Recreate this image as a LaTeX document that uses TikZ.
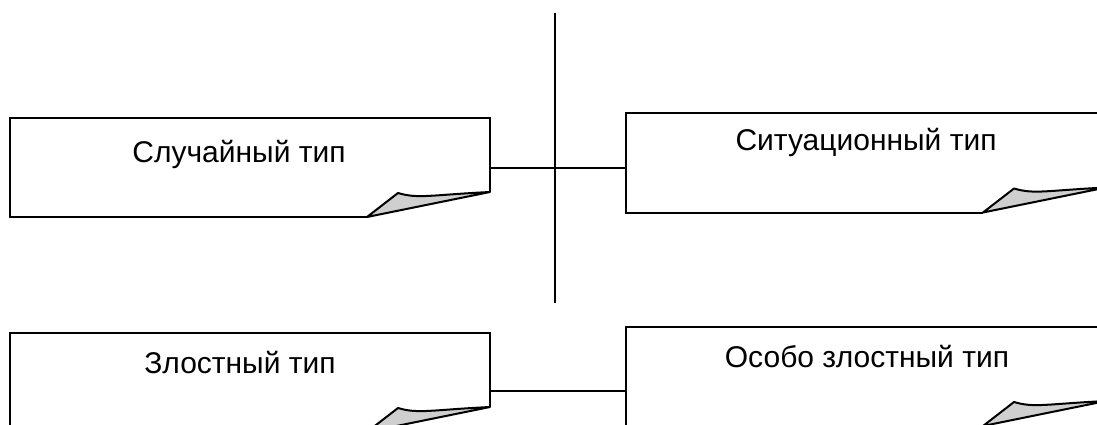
\documentclass[tikz,border=0pt]{standalone}
\usepackage{fontspec}
\setmainfont{Liberation Sans}
\usetikzlibrary{calc}
\tikzset{
  boxnode/.style={rectangle, minimum width=480pt, minimum height=99pt, inner sep=0pt, outer sep=0pt},
  boxline/.style={line width=2pt, line join=miter},
  curl/.style={line width=2pt, fill=black!19, line join=round},
  conn/.style={line width=2pt},
  lbl/.style={font=\fontsize{30}{35}\selectfont, inner sep=0pt}
}
\newcommand\myfoldbox[1]{%
  \draw[boxline] ($(#1.south west)+(357,0)$) -- (#1.south west) -- (#1.north west) -- (#1.north east) -- ($(#1.south east)+(0,-25)$);
  \draw[curl] ($(#1.south west)+(357,0)$) -- ($(#1.south west)+(388,-24)$) .. controls +(20,6) and +(-60,3) .. ($(#1.south east)+(0,-25)$) -- cycle;
}
\begin{document}
\begin{tikzpicture}[x=1pt,y=-1pt]
\useasboundingbox (0,0) rectangle (1097,425);
\clip (0,0) rectangle (1097,425);
\node[boxnode] (n1) at (250,167.5) {};
\node[boxnode] (n2) at (866,163) {};
\node[boxnode] (n3) at (250,382.5) {};
\node[boxnode] (n4) at (866,376.5) {};
\myfoldbox{n1}
\myfoldbox{n2}
\myfoldbox{n3}
\myfoldbox{n4}
\node[lbl] (t1) at ($(n1.north)+(-11,36)$) {Случайный тип};
\node[lbl] (t2) at ($(n2.north)+(0,29)$) {Ситуационный тип};
\node[lbl] (t3) at ($(n3.north)+(-10,30)$) {Злостный тип};
\node[lbl] (t4) at ($(n4.north)+(1,30)$) {Особо злостный тип};
\coordinate (vt) at (555,12.7);
\coordinate (vb) at (555,303);
\draw[conn] (vt) -- (vb);
\draw[conn] (n1.east) -- (n1.east -| n2.west);
\coordinate (c3) at ($(n3.east)+(0,8.5)$);
\draw[conn] (c3) -- (c3 -| n4.west);
\end{tikzpicture}
\end{document}
